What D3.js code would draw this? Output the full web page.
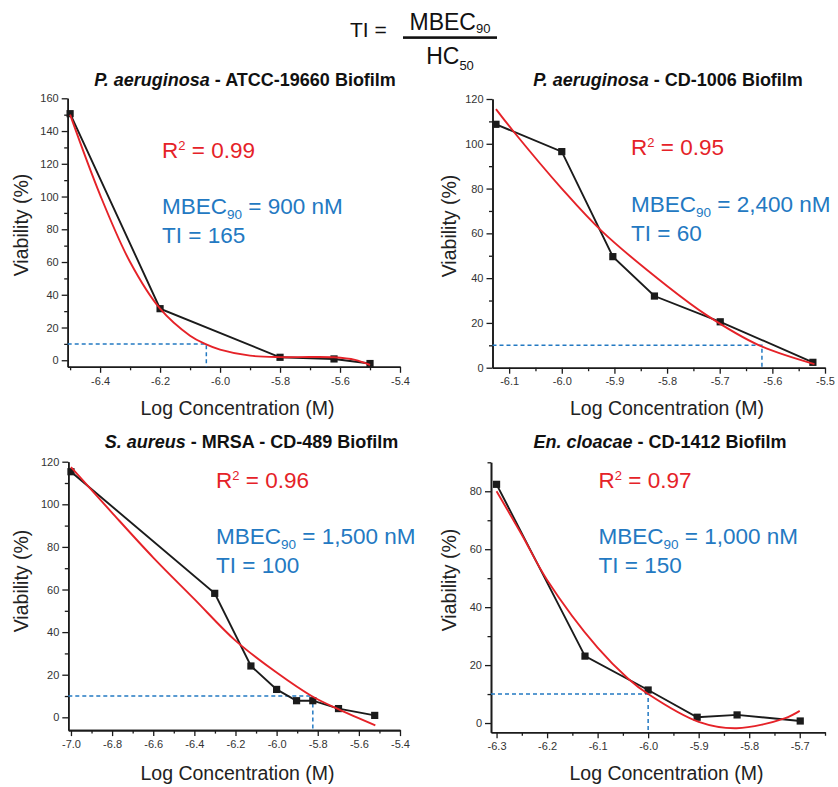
<!DOCTYPE html>
<html>
<head>
<meta charset="utf-8">
<script src="https://cdn.jsdelivr.net/npm/d3@7"></script>
<style>
  body { margin: 0; background: #fff; }
  svg { display: block; font-family: Arial, "Liberation Sans", Helvetica, sans-serif; }
</style>
</head>
<body>
<svg id="chart" width="838" height="787"></svg>
<script>
// ---- Measured viability (%) versus log concentration (M) ----
// P. aeruginosa ATCC-19660 biofilm
const atccLogConc = [-6.5, -6.2, -5.8, -5.62, -5.5];
const atccViability = [150.6, 31.5, 1.8, 0.8, -2.0];
const atccFitLogConc = [-6.5, -6.4, -6.3, -6.2, -6.1, -6.05, -6.0, -5.9, -5.8, -5.7, -5.62, -5.55, -5.5];
const atccFitViability = [150, 101, 60, 31.5, 15, 10, 6.5, 2.8, 1.9, 2.0, 1.8, 0.2, -2.9];

// P. aeruginosa CD-1006 biofilm
const cd1006LogConc = [-6.125, -6.0, -5.903, -5.824, -5.699, -5.523];
const cd1006Viability = [108.7, 96.5, 49.6, 32.0, 20.5, 2.4];
const cd1006FitLogConc = [-6.125, -6.092, -6.0, -5.924, -5.8, -5.725, -5.625, -5.52];
const cd1006FitViability = [115.5, 105.6, 80, 61, 36.5, 23.5, 10, 1.6];

// S. aureus MRSA CD-489 biofilm
const cd489LogConc = [-7.0, -6.301, -6.125, -6.0, -5.903, -5.824, -5.699, -5.523];
const cd489Viability = [115.3, 58.2, 24.1, 13.1, 7.8, 7.8, 4.1, 0.9];
const cd489FitLogConc = [-7.0, -6.8, -6.6, -6.4, -6.2, -6.0, -5.83, -5.7, -5.52];
const cd489FitViability = [117.5, 96, 75, 55.5, 36, 21, 10, 3.8, -3.8];

// En. cloacae CD-1412 biofilm
const cd1412LogConc = [-6.3, -6.125, -6.0, -5.903, -5.824, -5.699];
const cd1412Viability = [82.4, 23.1, 11.4, 2.0, 2.8, 0.7];
const cd1412FitLogConc = [-6.3, -6.25, -6.2, -6.1, -6.04, -6.0, -5.9, -5.825, -5.73, -5.7];
const cd1412FitViability = [80, 65, 49.4, 26, 15.4, 10, 0.4, -1.8, 1.6, 4.2];

// ---- Reported statistics ----
const rSquared = ["0.99", "0.95", "0.96", "0.97"];
const mbec90nM = [900, 2400, 1500, 1000];
const therapeuticIndex = [165, 60, 100, 150];
const mbecThreshold = 10; // 90 % killing => 10 % viability

// ---- Tick labels ----
const atccXTicks = [-6.4, -6.2, -6.0, -5.8, -5.6, -5.4];
const atccYTicks = [0, 20, 40, 60, 80, 100, 120, 140, 160];
const cd1006XTicks = [-6.1, -6.0, -5.9, -5.8, -5.7, -5.6, -5.5];
const cd1006YTicks = [0, 20, 40, 60, 80, 100, 120];
const cd489XTicks = [-7.0, -6.8, -6.6, -6.4, -6.2, -6.0, -5.8, -5.6, -5.4];
const cd489YTicks = [0, 20, 40, 60, 80, 100, 120];
const cd1412XTicks = [-6.3, -6.2, -6.1, -6.0, -5.9, -5.8, -5.7];
const cd1412YTicks = [0, 20, 40, 60, 80];

const RED = "#e52228";
const BLUE = "#2379c2";
const INK = "#1b1b1b";

const svg = d3.select("#chart");

const panels = [
  {
    species: "P. aeruginosa", strain: " - ATCC-19660 Biofilm", titleX: 245, titleY: 86,
    x: atccLogConc, y: atccViability, fx: atccFitLogConc, fy: atccFitViability,
    xDomain: [-6.508, -5.4], xRange: [67.7, 400], yDomain: [-4, 160], yRange: [366.8, 98.3],
    xTicks: atccXTicks, xMinorStep: 0.1, yTicks: atccYTicks, yMinorStep: 10,
    xLabel: [237.5, 415], yLabel: [28, 225],
    note: [162, 158, 214, 243], stat: 0
  },
  {
    species: "P. aeruginosa", strain: " - CD-1006 Biofilm", titleX: 668, titleY: 86,
    x: cd1006LogConc, y: cd1006Viability, fx: cd1006FitLogConc, fy: cd1006FitViability,
    xDomain: [-6.1316, -5.5], xRange: [492.5, 825], yDomain: [0, 120], yRange: [367.7, 99],
    xTicks: cd1006XTicks, xMinorStep: 0.05, yTicks: cd1006YTicks, yMinorStep: 10,
    xLabel: [667, 415], yLabel: [456, 226],
    note: [631, 155, 211.5, 240.5], stat: 1
  },
  {
    species: "S. aureus", strain: " - MRSA - CD-489 Biofilm", titleX: 251.5, titleY: 448,
    x: cd489LogConc, y: cd489Viability, fx: cd489FitLogConc, fy: cd489FitViability,
    xDomain: [-7.013, -5.4], xRange: [68.3, 400], yDomain: [-6, 120], yRange: [730.1, 461.7],
    xTicks: cd489XTicks, xMinorStep: 0.1, yTicks: cd489YTicks, yMinorStep: 10,
    xLabel: [237.5, 780], yLabel: [28, 581],
    note: [216, 488, 544, 573], stat: 2
  },
  {
    species: "En. cloacae", strain: " - CD-1412 Biofilm", titleX: 660, titleY: 448,
    x: cd1412LogConc, y: cd1412Viability, fx: cd1412FitLogConc, fy: cd1412FitViability,
    xDomain: [-6.311, -5.65], xRange: [491, 825], yDomain: [-3.2, 90], yRange: [732.3, 462.3],
    xTicks: cd1412XTicks, xMinorStep: 0.05, yTicks: cd1412YTicks, yMinorStep: 10,
    xLabel: [666.5, 780], yLabel: [456, 580],
    note: [598.5, 488, 544, 573], stat: 3
  }
];

function minorTicks(domain, step, majors) {
  const lo = Math.min(domain[0], domain[1]), hi = Math.max(domain[0], domain[1]);
  const out = [];
  for (let k = Math.ceil(lo / step - 1e-6); k * step <= hi + 1e-6; k++) {
    const v = +(k * step).toFixed(4);
    if (!majors.some(m => Math.abs(m - v) < 1e-6)) out.push(v);
  }
  return out;
}

function styleAxis(g) {
  g.select(".domain").attr("stroke", INK).attr("stroke-width", 1.6);
  g.selectAll(".tick line").attr("stroke", INK).attr("stroke-width", 1.3);
  g.selectAll(".tick text").attr("fill", "#333").attr("font-size", 11)
    .attr("font-family", "Arial, 'Liberation Sans', sans-serif");
}

panels.forEach(p => {
  const x = d3.scaleLinear().domain(p.xDomain).range(p.xRange);
  const y = d3.scaleLinear().domain(p.yDomain).range(p.yRange);
  const g = svg.append("g");
  const xBase = p.yRange[0];
  const yBase = p.xRange[0];

  // minor ticks first, then labelled major ticks
  g.append("g").attr("transform", `translate(0,${xBase})`)
    .call(d3.axisBottom(x).tickValues(minorTicks(p.xDomain, p.xMinorStep, p.xTicks))
      .tickSize(3.5).tickSizeOuter(0).tickFormat(""))
    .call(styleAxis);
  g.append("g").attr("transform", `translate(${yBase},0)`)
    .call(d3.axisLeft(y).tickValues(minorTicks(p.yDomain, p.yMinorStep, p.yTicks))
      .tickSize(3.5).tickSizeOuter(0).tickFormat(""))
    .call(styleAxis);
  g.append("g").attr("transform", `translate(0,${xBase})`)
    .call(d3.axisBottom(x).tickValues(p.xTicks).tickSize(6).tickSizeOuter(0)
      .tickPadding(4).tickFormat(d => d.toFixed(1)))
    .call(styleAxis);
  g.append("g").attr("transform", `translate(${yBase},0)`)
    .call(d3.axisLeft(y).tickValues(p.yTicks).tickSize(6).tickSizeOuter(0)
      .tickPadding(3).tickFormat(d => String(d)))
    .call(styleAxis);

  // MBEC90 guide: 10 % viability at log10 of the reported MBEC90
  const mbecLog = Math.log10(mbec90nM[p.stat] * 1e-9);
  g.append("path")
    .attr("d", `M${yBase},${y(mbecThreshold)}H${x(mbecLog)}V${xBase}`)
    .attr("fill", "none").attr("stroke", BLUE).attr("stroke-width", 1.5)
    .attr("stroke-dasharray", "4,3");

  // measured series
  const pts = p.x.map((v, i) => [v, p.y[i]]);
  g.append("path")
    .attr("d", d3.line().x(d => x(d[0])).y(d => y(d[1]))(pts))
    .attr("fill", "none").attr("stroke", INK).attr("stroke-width", 1.9);
  g.selectAll("rect.pt").data(pts).join("rect").attr("class", "pt")
    .attr("x", d => x(d[0]) - 3.6).attr("y", d => y(d[1]) - 3.6)
    .attr("width", 7.2).attr("height", 7.2).attr("fill", INK);

  // fitted curve
  const fit = p.fx.map((v, i) => [v, p.fy[i]]);
  g.append("path")
    .attr("d", d3.line().curve(d3.curveCatmullRom.alpha(0.5))
      .x(d => x(d[0])).y(d => y(d[1]))(fit))
    .attr("fill", "none").attr("stroke", RED).attr("stroke-width", 1.9);

  // title
  const t = svg.append("text").attr("x", p.titleX).attr("y", p.titleY)
    .attr("text-anchor", "middle").attr("font-size", 18).attr("font-weight", "bold")
    .attr("fill", "#111");
  t.append("tspan").attr("font-style", "italic").text(p.species);
  t.append("tspan").text(p.strain);

  // axis titles
  svg.append("text").attr("x", p.xLabel[0]).attr("y", p.xLabel[1])
    .attr("text-anchor", "middle").attr("font-size", 19.5).attr("fill", "#222")
    .text("Log Concentration (M)");
  svg.append("text")
    .attr("transform", `translate(${p.yLabel[0]},${p.yLabel[1]}) rotate(-90)`)
    .attr("text-anchor", "middle").attr("font-size", 19.5).attr("fill", "#222")
    .text("Viability (%)");

  // statistics
  const [nx, ry, my, ty] = p.note;
  const r = svg.append("text").attr("x", nx).attr("y", ry).attr("font-size", 22.5).attr("fill", RED);
  r.append("tspan").text("R");
  r.append("tspan").attr("font-size", 13).attr("dy", -8).text("2");
  r.append("tspan").attr("dy", 8).text(` = ${rSquared[p.stat]}`);

  const m = svg.append("text").attr("x", nx).attr("y", my).attr("font-size", 22.5).attr("fill", BLUE);
  m.append("tspan").text("MBEC");
  m.append("tspan").attr("font-size", 13.5).attr("dy", 5).text("90");
  m.append("tspan").attr("dy", -5).text(` = ${d3.format(",")(mbec90nM[p.stat])} nM`);

  svg.append("text").attr("x", nx).attr("y", ty).attr("font-size", 22.5).attr("fill", BLUE)
    .text(`TI = ${therapeuticIndex[p.stat]}`);
});

// therapeutic index definition
const eq = svg.append("g").attr("fill", "#111");
eq.append("text").attr("x", 350).attr("y", 37).attr("font-size", 21).text("TI =");
const num = eq.append("text").attr("x", 450).attr("y", 29.5).attr("text-anchor", "middle").attr("font-size", 23);
num.append("tspan").text("MBEC");
num.append("tspan").attr("font-size", 13).attr("dy", 3).text("90");
eq.append("rect").attr("x", 403).attr("y", 36.3).attr("width", 94).attr("height", 2.6);
const den = eq.append("text").attr("x", 450).attr("y", 63.5).attr("text-anchor", "middle").attr("font-size", 23);
den.append("tspan").text("HC");
den.append("tspan").attr("font-size", 13).attr("dy", 6).text("50");
</script>
</body>
</html>
